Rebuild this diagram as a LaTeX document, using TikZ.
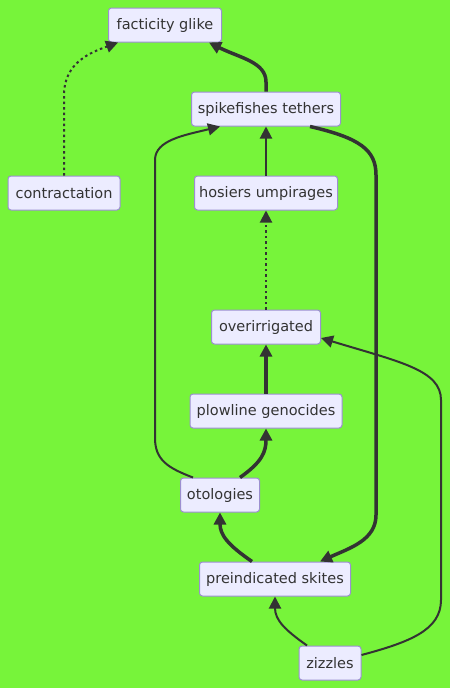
\documentclass[tikz,border=0pt]{standalone}
\usepackage{fontspec}
\setmainfont{DejaVu Sans}
\usepackage{tikz}
\usetikzlibrary{arrows.meta}

\definecolor{bgcol}{HTML}{77F43A}
\definecolor{boxfill}{HTML}{ECECFF}
\definecolor{boxline}{HTML}{9C8FD0}
\definecolor{ink}{HTML}{333333}

\tikzset{
  box/.style={draw=boxline, fill=boxfill, line width=1pt, rounded corners=3pt,
    minimum height=34pt, inner sep=0pt, text=ink,
    font=\fontsize{14.5}{17}\selectfont},
  link/.style={draw=ink, line width=2pt, -{Triangle[length=12pt,width=12pt]}},
  thicklink/.style={link, line width=3.5pt},
  dotlink/.style={link, dash pattern=on 2.5pt off 3pt}
}

\begin{document}
\begin{tikzpicture}[x=1pt,y=-1pt]
\fill[bgcol] (0,0) rectangle (450,688);
\useasboundingbox (0,0) rectangle (450,688);

%Узлы
\node[box, minimum width=113pt] (fact) at (165,25) {facticity glike};
\node[box, minimum width=149pt] (spk) at (266,109) {spikefishes tethers};
\node[box, minimum width=112pt] (contr) at (64,193) {contractation};
\node[box, minimum width=143pt] (hos) at (266,193) {hosiers umpirages};
\node[box, minimum width=109pt] (over) at (266,327) {overirrigated};
\node[box, minimum width=152pt] (plow) at (266,411) {plowline genocides};
\node[box, minimum width=79pt] (oto) at (220,495) {otologies};
\node[box, minimum width=151pt] (pre) at (275,579) {preindicated skites};
\node[box, minimum width=62pt] (ziz) at (330,663) {zizzles};

%Связи
\draw[dotlink] (contr.north) -- (64,95) .. controls (64,62) and (92,52) .. ([xshift=10pt]fact.south west);
\draw[thicklink] (spk.north) -- (266,82) .. controls (266,62) and (240,58) .. ([xshift=-13pt]fact.south east);
\draw[link] (hos.north) -- (spk.south);
\draw[dotlink] (over.north) -- (hos.south);
\draw[thicklink] (plow.north) -- (over.south);
\draw[thicklink] ([xshift=20pt]oto.north) .. controls (262,462) and (266,452) .. (plow.south);
\draw[link] ([xshift=13pt]oto.north west) .. controls (168,468) and (155,460) .. (155,438)
  -- (155,160) .. controls (155,140) and (185,135) .. ([xshift=-46pt]spk.south);
\draw[thicklink] ([xshift=44pt]spk.south) .. controls (360,138) and (376,150) .. (376,175)
  -- (376,515) .. controls (376,540) and (350,548) .. ([xshift=45pt]pre.north);
\draw[thicklink] ([xshift=-23pt]pre.north) .. controls (228,545) and (220,535) .. (oto.south);
\draw[link] ([xshift=-23pt]ziz.north) .. controls (285,630) and (275,620) .. (pre.south);
\draw[link] ([yshift=8pt]ziz.east) .. controls (410,642) and (441,630) .. (441,600)
  -- (441,400) .. controls (441,370) and (400,362) .. ([yshift=-11pt]over.east);

\end{tikzpicture}
\end{document}
